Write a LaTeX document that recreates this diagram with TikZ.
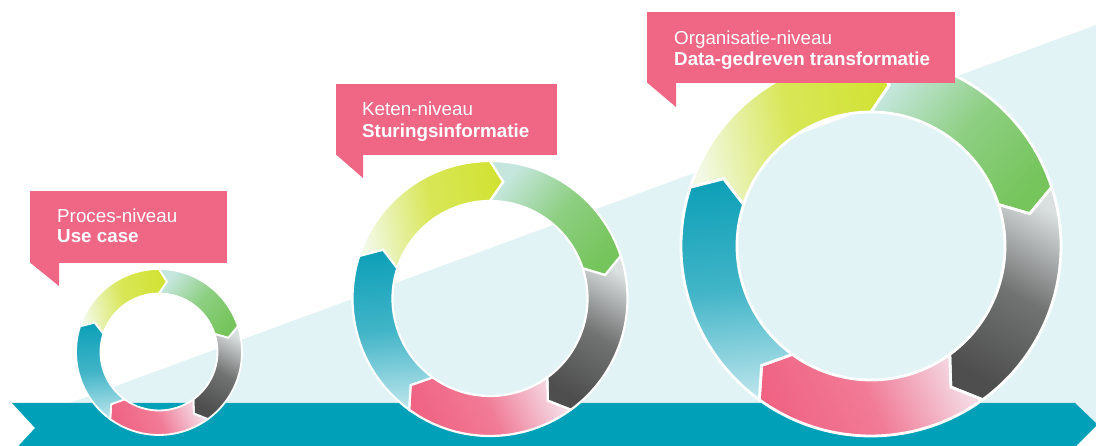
\documentclass[tikz,border=0pt]{standalone}
\usepackage{fontspec}
\setmainfont{Liberation Sans}
\definecolor{bgcyan}{RGB}{225,243,245}
\definecolor{bandteal}{RGB}{0,160,184}
\definecolor{boxpink}{RGB}{240,102,133}
\definecolor{yl0}{RGB}{242,249,230}
\definecolor{yl1}{RGB}{210,226,52}
\colorlet{ylm}{yl1!80!yl0}
\definecolor{gr0}{RGB}{196,230,220}
\definecolor{gr1}{RGB}{118,197,92}
\colorlet{grm}{gr1!70!gr0}
\definecolor{gy0}{RGB}{218,223,223}
\definecolor{gy1}{RGB}{78,78,78}
\colorlet{gym}{gy1!75!gy0}
\definecolor{pk0}{RGB}{244,218,228}
\definecolor{pk1}{RGB}{240,99,131}
\colorlet{pkm}{pk1!80!pk0}
\definecolor{tl0}{RGB}{185,228,235}
\definecolor{tl1}{RGB}{14,160,184}
\colorlet{tlm}{tl1!70!tl0}
\tikzset{
  segyellow/.style={bottom color=yl0, top color=yl1, middle color=ylm, shading angle=-80},
  seggreen/.style={bottom color=gr0, top color=gr1, middle color=grm, shading angle=-130},
  seggrey/.style={bottom color=gy0, top color=gy1, middle color=gym, shading angle=150},
  segpink/.style={bottom color=pk0, top color=pk1, middle color=pkm, shading angle=115},
  segteal/.style={bottom color=tl0, top color=tl1, middle color=tlm, shading angle=5},
  callout/.style={fill=boxpink, draw=none},
  titletext/.style={anchor=base west, inner sep=0pt, text=white, font=\fontsize{18.8}{22}\selectfont},
  subtext/.style={titletext, font=\fontsize{18.8}{22}\selectfont\bfseries},
}
\newcommand\myring[4]{%
  \begin{scope}[shift={#1}]
    \pgfmathsetmacro\Mid{(#2+#3)/2}
    \foreach \a/\sty in {162/segyellow, 90/seggreen, 18/seggrey, -54/segpink, -126/segteal}{
      \pgfmathsetmacro\b{\a-72}
      \pgfmathsetmacro\bt{\a-78.5}
      \pgfmathsetmacro\at{\a-6.5}
      \path[\sty, draw=white, line width=#4]
        (\a:#2) arc[start angle=\a, end angle=\b, radius=#2]
        -- (\bt:\Mid) -- (\b:#3)
        arc[start angle=\b, end angle=\a, radius=#3]
        -- (\at:\Mid) -- cycle;
    }
  \end{scope}}
\begin{document}
\begin{tikzpicture}[x=1pt,y=1pt]
\useasboundingbox (0,0) rectangle (1096,446);
\fill[white] (0,0) rectangle (1096,446);
% background triangle
\fill[bgcyan] (70,43) -- (1096,421) -- (1096,21.5) -- (1075,43) -- cycle;
% teal band arrow
\fill[bandteal] (12,43) -- (35,18) -- (18.4,0) -- (1076,0) -- (1097.5,21.5) -- (1075,43) -- cycle;
% rings
\myring{(159,94)}{83}{58.5}{1.8pt}
\myring{(490,147.5)}{137.5}{97.5}{2.2pt}
\myring{(871,200)}{190}{134}{2.8pt}
% callouts
\fill[callout] (30,183) rectangle (227,255);
\fill[callout] (30,183.5) -- (59,183.5) -- (59,160) -- cycle;
\node[titletext] (t1) at (57,223) {Proces-niveau};
\node[subtext] (s1) at (57,203) {Use case};
\fill[callout] (336,291) rectangle (557,362);
\fill[callout] (336,291.5) -- (363,291.5) -- (363,268) -- cycle;
\node[titletext] (t2) at (362,330) {Keten-niveau};
\node[subtext] (s2) at (362,308) {Sturingsinformatie};
\fill[callout] (647,363) rectangle (955,434);
\fill[callout] (647,363.5) -- (676,363.5) -- (676,339) -- cycle;
\node[titletext] (t3) at (674,401.7) {Organisatie-niveau};
\node[subtext] (s3) at (674,380.3) {Data-gedreven transformatie};
\end{tikzpicture}
\end{document}
